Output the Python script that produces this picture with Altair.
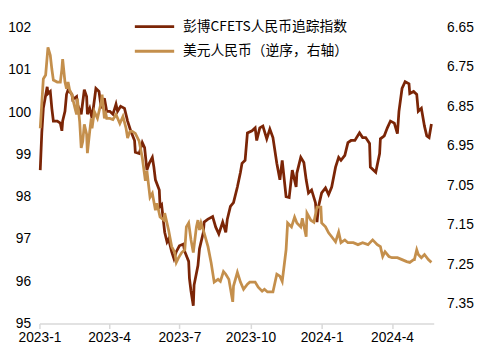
import altair as alt
import pandas as pd

NAME_CFETS = "彭博CFETS人民币追踪指数"
NAME_USD = "美元人民币（逆序，右轴）"

cfets_dates = [
    "2023-01-02", "2023-01-04", "2023-01-06", "2023-01-11", "2023-01-12", "2023-01-15", "2023-01-17",
    "2023-01-19", "2023-01-24", "2023-01-28", "2023-01-30", "2023-01-31", "2023-02-03", "2023-02-05",
    "2023-02-07", "2023-02-12", "2023-02-13", "2023-02-18", "2023-02-19", "2023-02-24", "2023-02-28",
    "2023-03-03", "2023-03-04", "2023-03-07", "2023-03-10", "2023-03-15", "2023-03-19", "2023-03-22",
    "2023-03-26", "2023-03-29", "2023-04-02", "2023-04-06", "2023-04-10", "2023-04-12", "2023-04-16",
    "2023-04-21", "2023-04-25", "2023-04-29", "2023-05-04", "2023-05-05", "2023-05-10", "2023-05-14",
    "2023-05-17", "2023-05-20", "2023-05-23", "2023-05-27", "2023-05-29", "2023-05-31", "2023-06-05",
    "2023-06-06", "2023-06-08", "2023-06-12", "2023-06-15", "2023-06-17", "2023-06-21", "2023-06-24",
    "2023-06-27", "2023-07-01", "2023-07-06", "2023-07-08", "2023-07-13", "2023-07-14", "2023-07-16",
    "2023-07-19", "2023-07-20", "2023-07-25", "2023-07-27", "2023-08-01", "2023-08-02", "2023-08-07",
    "2023-08-11", "2023-08-13", "2023-08-17", "2023-08-21", "2023-08-26", "2023-08-30", "2023-09-01",
    "2023-09-05", "2023-09-09", "2023-09-14", "2023-09-18", "2023-09-20", "2023-09-24", "2023-09-27",
    "2023-10-03", "2023-10-07", "2023-10-09", "2023-10-13", "2023-10-17", "2023-10-22", "2023-10-26",
    "2023-10-30", "2023-11-04", "2023-11-08", "2023-11-11", "2023-11-16", "2023-11-20", "2023-11-24",
    "2023-11-29", "2023-11-30", "2023-12-05", "2023-12-09", "2023-12-12", "2023-12-15", "2023-12-19",
    "2023-12-24", "2023-12-26", "2023-12-28", "2024-01-01", "2024-01-06", "2024-01-10", "2024-01-14",
    "2024-01-19", "2024-01-23", "2024-01-26", "2024-01-31", "2024-02-04", "2024-02-08", "2024-02-13",
    "2024-02-19", "2024-02-23", "2024-02-27", "2024-03-03", "2024-03-04", "2024-03-11", "2024-03-16",
    "2024-03-17", "2024-03-22", "2024-03-26", "2024-03-30", "2024-04-04", "2024-04-08", "2024-04-10",
    "2024-04-14", "2024-04-18", "2024-04-23", "2024-04-24", "2024-04-29", "2024-05-03", "2024-05-05",
    "2024-05-09", "2024-05-13", "2024-05-16", "2024-05-19", "2024-05-22",
]
cfets_values = [
    98.63, 99.51, 100.09, 100.60, 100.44, 100.49, 100.09,
    99.79, 99.79, 99.74, 99.56, 99.79, 100.02, 100.42,
    100.53, 100.42, 100.30, 100.37, 100.19, 99.95, 100.53,
    100.37, 99.95, 100.09, 99.86, 100.56, 100.49, 100.09,
    100.33, 100.02, 100.02, 99.95, 100.19, 100.02, 100.14,
    100.09, 99.79, 99.56, 99.33, 99.05, 99.02, 99.28,
    99.16, 98.63, 98.79, 98.93, 98.70, 98.40, 98.16,
    97.77, 97.81, 97.16, 96.93, 97.00, 96.70, 96.53,
    96.70, 96.84, 96.88, 96.70, 96.47, 96.07, 95.77,
    95.42, 95.91, 96.37, 96.77, 97.16, 97.40, 97.47,
    97.51, 97.53, 97.28, 97.12, 97.40, 97.16, 97.47,
    97.77, 97.86, 98.23, 98.58, 98.79, 98.86, 99.51,
    99.56, 99.63, 99.33, 99.63, 99.67, 99.37, 99.60,
    99.40, 98.79, 98.40, 98.86, 98.00, 97.98, 98.63,
    98.23, 98.56, 98.93, 98.81, 98.40, 98.09, 98.16,
    97.86, 97.40, 97.77, 98.09, 98.21, 98.05, 98.23,
    98.70, 98.93, 98.86, 98.98, 99.28, 99.33, 99.33,
    99.51, 99.40, 99.40, 99.26, 98.70, 98.58, 99.02,
    99.37, 99.44, 99.63, 99.79, 99.74, 99.49, 100.02,
    100.56, 100.72, 100.67, 100.44, 100.49, 100.42, 100.02,
    100.09, 99.67, 99.44, 99.40, 99.72,
]

usd_dates = [
    "2023-01-02", "2023-01-06", "2023-01-09", "2023-01-12", "2023-01-15", "2023-01-17", "2023-01-19",
    "2023-01-24", "2023-01-28", "2023-01-30", "2023-01-31", "2023-02-03", "2023-02-05", "2023-02-07",
    "2023-02-09", "2023-02-12", "2023-02-13", "2023-02-16", "2023-02-18", "2023-02-19", "2023-02-22",
    "2023-02-24", "2023-02-26", "2023-02-28", "2023-03-03", "2023-03-04", "2023-03-07", "2023-03-09",
    "2023-03-10", "2023-03-13", "2023-03-17", "2023-03-22", "2023-03-23", "2023-03-26", "2023-03-28",
    "2023-03-29", "2023-04-02", "2023-04-06", "2023-04-10", "2023-04-15", "2023-04-19", "2023-04-23",
    "2023-04-25", "2023-04-28", "2023-05-01", "2023-05-05", "2023-05-10", "2023-05-14", "2023-05-18",
    "2023-05-20", "2023-05-24", "2023-05-27", "2023-05-31", "2023-06-02", "2023-06-06", "2023-06-11",
    "2023-06-12", "2023-06-17", "2023-06-21", "2023-06-25", "2023-06-27", "2023-06-30", "2023-07-04",
    "2023-07-08", "2023-07-10", "2023-07-13", "2023-07-16", "2023-07-19", "2023-07-23", "2023-07-25",
    "2023-07-27", "2023-07-29", "2023-08-02", "2023-08-07", "2023-08-11", "2023-08-15", "2023-08-20",
    "2023-08-23", "2023-08-27", "2023-08-30", "2023-09-03", "2023-09-08", "2023-09-09", "2023-09-14",
    "2023-09-18", "2023-09-22", "2023-09-27", "2023-09-30", "2023-10-07", "2023-10-11", "2023-10-16",
    "2023-10-19", "2023-10-23", "2023-10-30", "2023-11-04", "2023-11-08", "2023-11-11", "2023-11-16",
    "2023-11-18", "2023-11-23", "2023-11-27", "2023-11-30", "2023-12-05", "2023-12-07", "2023-12-12",
    "2023-12-13", "2023-12-18", "2023-12-22", "2023-12-26", "2023-12-31", "2024-01-01", "2024-01-06",
    "2024-01-10", "2024-01-14", "2024-01-19", "2024-01-23", "2024-01-26", "2024-01-31", "2024-02-04",
    "2024-02-11", "2024-02-17", "2024-02-23", "2024-03-01", "2024-03-07", "2024-03-13", "2024-03-17",
    "2024-03-20", "2024-03-23", "2024-03-28", "2024-04-01", "2024-04-08", "2024-04-14", "2024-04-20",
    "2024-04-24", "2024-04-29", "2024-04-30", "2024-05-03", "2024-05-05", "2024-05-09", "2024-05-13",
    "2024-05-18", "2024-05-22",
]
usd_values = [
    6.905, 6.780, 6.770, 6.700, 6.720, 6.755, 6.783,
    6.788, 6.788, 6.755, 6.730, 6.788, 6.805, 6.788,
    6.808, 6.820, 6.830, 6.855, 6.870, 6.830, 6.888,
    6.955, 6.938, 6.895, 6.920, 6.968, 6.913, 6.880,
    6.905, 6.863, 6.880, 6.838, 6.820, 6.880, 6.870,
    6.880, 6.880, 6.883, 6.870, 6.893, 6.875, 6.905,
    6.930, 6.913, 6.913, 6.918, 6.938, 6.980, 7.038,
    7.013, 7.080, 7.070, 7.113, 7.095, 7.130, 7.138,
    7.120, 7.163, 7.205, 7.220, 7.245, 7.233, 7.220,
    7.213, 7.155, 7.145, 7.188, 7.220, 7.155, 7.138,
    7.163, 7.145, 7.170, 7.205, 7.245, 7.295, 7.288,
    7.293, 7.268, 7.275, 7.288, 7.345, 7.305, 7.270,
    7.295, 7.313, 7.300, 7.295, 7.295, 7.308, 7.318,
    7.313, 7.320, 7.320, 7.275, 7.280, 7.293, 7.213,
    7.145, 7.155, 7.130, 7.145, 7.155, 7.133, 7.180,
    7.120, 7.138, 7.143, 7.105, 7.105, 7.145, 7.155,
    7.170, 7.180, 7.193, 7.168, 7.195, 7.188, 7.195,
    7.195, 7.200, 7.195, 7.200, 7.188, 7.200, 7.205,
    7.230, 7.218, 7.230, 7.233, 7.233, 7.238, 7.243,
    7.245, 7.238, 7.238, 7.213, 7.225, 7.233, 7.225,
    7.238, 7.245,
]

left_ticks = [95, 96, 97, 98, 99, 100, 101, 102]
right_ticks = [6.65, 6.75, 6.85, 6.95, 7.05, 7.15, 7.25, 7.35]
x_tick_dates = [(2023, 1), (2023, 4), (2023, 7), (2023, 10), (2024, 1), (2024, 4)]

BROWN = "#7B2506"
TAN = "#C48F4C"
FONT = "Liberation Sans"
CJK = "Noto Sans CJK SC"

df_c = pd.DataFrame({"date": cfets_dates, "value": cfets_values, "series": NAME_CFETS})
df_u = pd.DataFrame({"date": usd_dates, "value": usd_values, "series": NAME_USD})

x_enc = alt.X(
    "date:T",
    scale=alt.Scale(
        type="utc",
        domain=[alt.DateTime(year=2023, month=1, date=1, utc=True),
                alt.DateTime(year=2024, month=5, date=25, utc=True)],
        nice=False,
    ),
    axis=alt.Axis(
        values=[alt.DateTime(year=y, month=m, date=1, utc=True) for y, m in x_tick_dates],
        format="%Y-%-m", title=None, grid=False,
        domainColor="#d9d9d9", domainWidth=1.5, tickColor="#d9d9d9", tickSize=5, tickWidth=1.5,
        labelFont=FONT, labelFontSize=14, labelColor="#000000", labelPadding=2,
        labelFlush=False, labelOverlap=False,
    ),
)

color_enc = alt.Color(
    "series:N",
    scale=alt.Scale(domain=[NAME_CFETS, NAME_USD], range=[BROWN, TAN]),
    legend=alt.Legend(
        title=None, orient="none", legendX=110, legendY=-8,
        symbolType="M-4,0H4", symbolSize=100, symbolStrokeWidth=3,
        labelFont=CJK, labelFontSize=14, labelColor="#000000", labelOffset=22,
        labelLimit=400, rowPadding=11, padding=0,
    ),
)

brown = alt.Chart(df_c).mark_line(strokeWidth=2.8, interpolate="linear").encode(
    x=x_enc,
    y=alt.Y("value:Q",
            scale=alt.Scale(domain=[95, 102], nice=False, zero=False),
            axis=alt.Axis(orient="left", values=left_ticks, title=None, grid=False,
                          domain=False, ticks=False, labelPadding=9,
                          labelFont=FONT, labelFontSize=14, labelColor="#000000")),
    color=color_enc,
)

tan = alt.Chart(df_u).mark_line(strokeWidth=2.8, interpolate="linear").encode(
    x=x_enc,
    y=alt.Y("value:Q",
            scale=alt.Scale(domain=[6.65, 7.40], nice=False, zero=False, reverse=True),
            axis=alt.Axis(orient="right", values=right_ticks, format=".2f", title=None,
                          grid=False, domain=False, ticks=False, labelPadding=13,
                          labelFont=FONT, labelFontSize=14, labelColor="#000000")),
    color=color_enc,
)

chart = alt.layer(brown, tan).resolve_scale(y="independent").properties(
    width=401, height=301,
    autosize=alt.AutoSizeParams(type="none"),
    padding={"left": 32, "top": 17, "right": 44, "bottom": 27},
).configure_view(stroke=None)

chart.save("out.html", embed_options={"renderer": "svg", "actions": False})
